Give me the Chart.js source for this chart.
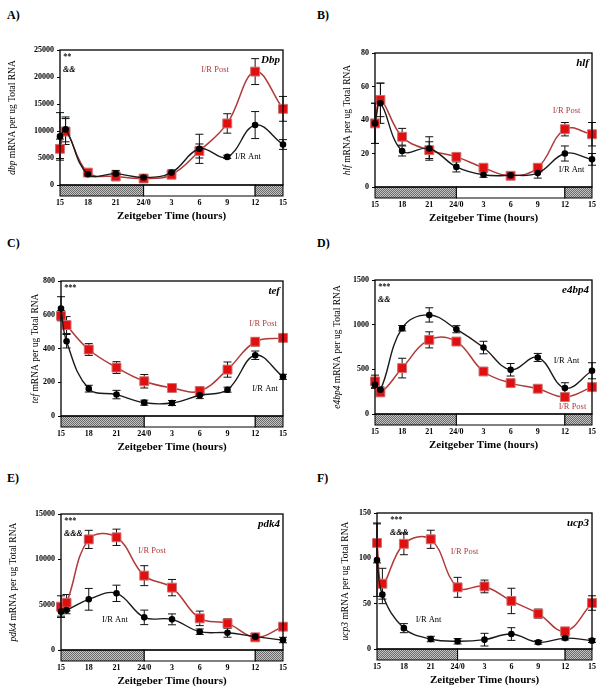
<!DOCTYPE html>
<html>
<head>
<meta charset="utf-8">
<script src="https://cdn.jsdelivr.net/npm/chart.js@4.4.0/dist/chart.umd.min.js"></script>
<style>
  body { margin: 0; background: #fff; width: 609px; height: 699px; position: relative; overflow: hidden; }
  canvas { position: absolute; }
  .tag { position: absolute; font: bold 12px "Liberation Serif", serif; color: #000; }
</style>
</head>
<body>
<div class="tag" style="left:7px;top:8px">A)</div>
<div class="tag" style="left:317px;top:8px">B)</div>
<div class="tag" style="left:7px;top:236px">C)</div>
<div class="tag" style="left:317px;top:236px">D)</div>
<div class="tag" style="left:7px;top:471px">E)</div>
<div class="tag" style="left:317px;top:471px">F)</div>

<canvas id="chartA" width="305" height="228" style="left:0;top:0"></canvas>
<canvas id="chartB" width="304" height="228" style="left:305px;top:0"></canvas>
<canvas id="chartC" width="305" height="230" style="left:0;top:228px"></canvas>
<canvas id="chartD" width="304" height="230" style="left:305px;top:228px"></canvas>
<canvas id="chartE" width="305" height="241" style="left:0;top:458px"></canvas>
<canvas id="chartF" width="304" height="241" style="left:305px;top:458px"></canvas>

<script>
// sampling times, hours after ZT15
const hours = [0, 0.6, 3, 6, 9, 12, 15, 18, 21, 24];
const tickLabels = ["15", "18", "21", "24/0", "3", "6", "9", "12", "15"];
const lightDark = [[0, 9, "dark"], [9, 21, "light"], [21, 24, "dark"]];

// A) Dbp
const dbpPost = [6700, 9900, 2300, 1600, 1200, 1900, 6300, 11400, 21000, 14100];
const dbpPostErr = [1800, 2400, 300, 800, 500, 500, 1300, 1800, 2400, 2300];
const dbpAnt = [9000, 10300, 2000, 2100, 1400, 2300, 6700, 5200, 11100, 7500];
const dbpAntErr = [4400, 2300, 300, 600, 400, 500, 2700, 300, 2500, 900];

// B) hlf
const hlfPost = [38, 52, 30, 22, 18, 11.5, 6.7, 11.5, 34.5, 31.5];
const hlfPostErr = [12, 10, 5, 5, 2, 2, 1.5, 2, 4, 7];
const hlfAnt = [38, 50, 21.5, 23, 12, 7.3, 7, 8.3, 20, 16.5];
const hlfAntErr = [12, 12, 3, 7, 3, 1.5, 1, 3, 4.5, 3.5];

// C) tef
const tefPost = [594, 539, 394, 287, 206, 166, 148, 275, 440, 463];
const tefPostErr = [30, 50, 35, 35, 40, 15, 25, 45, 25, 10];
const tefAnt = [637, 443, 162, 127, 79, 77, 123, 156, 360, 232];
const tefAntErr = [70, 40, 20, 25, 15, 15, 20, 15, 25, 15];

// D) e4bp4
const e4bp4Post = [365, 242, 514, 830, 811, 476, 346, 283, 190, 301];
const e4bp4PostErr = [70, 40, 110, 90, 30, 20, 30, 40, 20, 40];
const e4bp4Ant = [327, 272, 960, 1109, 949, 744, 495, 633, 290, 484];
const e4bp4AntErr = [40, 30, 30, 80, 40, 70, 70, 45, 60, 90];

// E) pdk4
const pdk4Post = [4780, 5220, 12200, 12430, 8200, 6880, 3490, 2940, 1400, 2570];
const pdk4PostErr = [1200, 900, 1000, 900, 1100, 900, 800, 500, 400, 300];
const pdk4Ant = [4230, 4400, 5590, 6250, 3600, 3380, 2020, 1910, 1470, 1100];
const pdk4AntErr = [500, 400, 1200, 900, 800, 600, 300, 500, 300, 300];

// F) ucp3
const ucp3Post = [117, 72, 116, 121, 68, 69, 53, 39, 19.5, 50.7];
const ucp3PostErr = [22, 17, 12, 10, 11, 7, 14, 5, 4, 8];
const ucp3Ant = [98, 60, 23, 11, 8.5, 10.3, 16.5, 7.4, 12, 9.2];
const ucp3AntErr = [40, 10, 5, 3, 3, 7, 7, 2, 2, 2];

const SERIF = '"Liberation Serif", serif';
const postColor = "#b03a3a";

const panels = [
  { id: "chartA", gene: "dbp", tag: "Dbp", yMax: 25000, yStep: 5000,
    post: dbpPost, postErr: dbpPostErr, ant: dbpAnt, antErr: dbpAntErr,
    area: { left: 60, right: 283, top: 50, bottom: 185 }, titleX: 12,
    marks: ["**", "&&"], postAt: [0.695, 0.148], antAt: [0.843, 0.793] },
  { id: "chartB", gene: "hlf", tag: "hlf", yMax: 80, yStep: 20,
    post: hlfPost, postErr: hlfPostErr, ant: hlfAnt, antErr: hlfAntErr,
    area: { left: 70, right: 293, top: 53, bottom: 187 }, titleX: 42,
    marks: [], postAt: [0.883, 0.433], antAt: [0.906, 0.873] },
  { id: "chartC", gene: "tef", tag: "tef", yMax: 800, yStep: 200,
    post: tefPost, postErr: tefPostErr, ant: tefAnt, antErr: tefAntErr,
    area: { left: 61, right: 283, top: 53, bottom: 188 }, titleX: 35,
    marks: ["***"], postAt: [0.91, 0.319], antAt: [0.919, 0.8] },
  { id: "chartD", gene: "e4bp4", tag: "e4bp4", yMax: 1500, yStep: 500,
    post: e4bp4Post, postErr: e4bp4PostErr, ant: e4bp4Ant, antErr: e4bp4AntErr,
    area: { left: 70, right: 293, top: 52, bottom: 186 }, titleX: 32,
    marks: ["***", "&&"], postAt: [0.91, 0.948], antAt: [0.883, 0.604] },
  { id: "chartE", gene: "pdk4", tag: "pdk4", yMax: 15000, yStep: 5000,
    post: pdk4Post, postErr: pdk4PostErr, ant: pdk4Ant, antErr: pdk4AntErr,
    area: { left: 61, right: 283, top: 56, bottom: 192 }, titleX: 13,
    marks: ["***", "&&&"], postAt: [0.41, 0.272], antAt: [0.243, 0.779] },
  { id: "chartF", gene: "ucp3", tag: "ucp3", yMax: 150, yStep: 50,
    post: ucp3Post, postErr: ucp3PostErr, ant: ucp3Ant, antErr: ucp3AntErr,
    area: { left: 72, right: 293, top: 55, bottom: 191 }, titleX: 40,
    marks: ["***", "&&&"], postAt: [0.407, 0.287], antAt: [0.24, 0.787], marksX: 13 },
];

function stipple(ctx) {
  const c = document.createElement("canvas");
  c.width = 4; c.height = 4;
  const g = c.getContext("2d");
  g.fillStyle = "#c4c4c4";
  g.fillRect(0, 0, 4, 4);
  g.fillStyle = "#6a6a6a";
  g.fillRect(0, 0, 1, 1); g.fillRect(2, 0, 1, 1);
  g.fillRect(1, 1, 1, 1); g.fillRect(3, 1, 1, 1);
  g.fillRect(0, 2, 1, 1); g.fillRect(2, 2, 1, 1);
  g.fillRect(1, 3, 1, 1); g.fillRect(3, 3, 1, 1);
  return ctx.createPattern(c, "repeat");
}

// error bars, drawn under the markers
const errorBars = {
  id: "errorBars",
  beforeDatasetsDraw(chart) {
    const ctx = chart.ctx;
    const xs = chart.scales.x, ys = chart.scales.y;
    ctx.save();
    ctx.strokeStyle = "#111";
    ctx.lineWidth = 1;
    chart.data.datasets.forEach((ds) => {
      ds.data.forEach((pt, i) => {
        const e = ds.errors[i];
        const px = xs.getPixelForValue(pt.x);
        const top = ys.getPixelForValue(pt.y + e);
        const bot = ys.getPixelForValue(pt.y - e);
        ctx.beginPath();
        ctx.moveTo(px, top); ctx.lineTo(px, bot);
        ctx.moveTo(px - 4, top); ctx.lineTo(px + 4, top);
        ctx.moveTo(px - 4, bot); ctx.lineTo(px + 4, bot);
        ctx.stroke();
      });
    });
    ctx.restore();
  },
};

// frame, light/dark bar and all the texts
const decor = {
  id: "decor",
  afterDraw(chart) {
    const p = chart.options.panel;
    const ctx = chart.ctx;
    const a = chart.chartArea;
    const xs = chart.scales.x;
    ctx.save();

    // light / dark bar under the axis
    lightDark.forEach(([from, to, kind]) => {
      const x0 = xs.getPixelForValue(from), x1 = xs.getPixelForValue(to);
      ctx.fillStyle = kind === "dark" ? stipple(ctx) : "#fff";
      ctx.fillRect(x0, a.bottom, x1 - x0, 11);
      ctx.strokeStyle = "#000";
      ctx.lineWidth = 1;
      ctx.strokeRect(x0, a.bottom, x1 - x0, 11);
    });

    ctx.strokeStyle = "#000";
    ctx.lineWidth = 1.3;
    ctx.strokeRect(a.left, a.top, a.right - a.left, a.bottom - a.top);

    // y title with italic gene name
    const rest = " mRNA per ug Total RNA";
    const italic = "italic 9.5px " + SERIF, plain = "9.5px " + SERIF;
    ctx.font = italic;
    const w1 = ctx.measureText(p.gene).width;
    ctx.font = plain;
    const w2 = ctx.measureText(rest).width;
    ctx.translate(p.titleX, (a.top + a.bottom) / 2);
    ctx.rotate(-Math.PI / 2);
    ctx.fillStyle = "#000";
    ctx.textBaseline = "middle";
    ctx.textAlign = "left";
    ctx.font = italic;
    ctx.fillText(p.gene, -(w1 + w2) / 2, 0);
    ctx.font = plain;
    ctx.fillText(rest, -(w1 + w2) / 2 + w1, 0);
    ctx.setTransform(chart.currentDevicePixelRatio, 0, 0, chart.currentDevicePixelRatio, 0, 0);

    // x title
    ctx.font = "bold 11px " + SERIF;
    ctx.textAlign = "center";
    ctx.fillText("Zeitgeber Time (hours)", (a.left + a.right) / 2, a.bottom + 31);

    // gene tag
    ctx.font = "bold italic 11px " + SERIF;
    ctx.textAlign = "right";
    ctx.fillText(p.tag, a.right - 3, a.top + 10);

    // significance marks
    ctx.font = "bold italic 8px " + SERIF;
    ctx.textAlign = "left";
    p.marks.forEach((m, i) => {
      ctx.fillText(m, a.left + (p.marksX || 3), a.top + 7 + i * 13);
    });

    // series labels
    const w = a.right - a.left, h = a.bottom - a.top;
    ctx.font = "8.5px " + SERIF;
    ctx.textAlign = "center";
    ctx.fillStyle = postColor;
    ctx.fillText("I/R Post", a.left + p.postAt[0] * w, a.top + p.postAt[1] * h);
    ctx.fillStyle = "#000";
    ctx.fillText("I/R Ant", a.left + p.antAt[0] * w, a.top + p.antAt[1] * h);
    ctx.restore();
  },
};

const tickFont = { family: SERIF, size: 8, weight: "bold" };

panels.forEach((p) => {
  const canvas = document.getElementById(p.id);
  const W = canvas.width, H = canvas.height;
  const pts = (vals) => vals.map((v, i) => ({ x: hours[i], y: v }));

  new Chart(canvas, {
    type: "line",
    data: {
      datasets: [
        {
          label: "I/R Ant",
          data: pts(p.ant),
          errors: p.antErr,
          borderColor: "#1a1a1a",
          borderWidth: 1.4,
          pointStyle: "circle",
          pointRadius: 2.6,
          pointBackgroundColor: "#000",
          pointBorderColor: "#000",
          tension: 0.4,
          clip: false,
        },
        {
          label: "I/R Post",
          data: pts(p.post),
          errors: p.postErr,
          borderColor: postColor,
          borderWidth: 1.5,
          pointStyle: "rect",
          pointRadius: 6.3,
          pointBackgroundColor: "#e01010",
          pointBorderColor: "#d07070",
          pointBorderWidth: 1,
          tension: 0.4,
          clip: false,
        },
      ],
    },
    options: {
      panel: p,
      responsive: false,
      animation: false,
      layout: { padding: { left: 0, right: W - p.area.right, top: p.area.top, bottom: 0 } },
      plugins: { legend: { display: false }, tooltip: { enabled: false } },
      scales: {
        x: {
          type: "linear",
          min: 0,
          max: 24,
          ticks: {
            stepSize: 3,
            autoSkip: false,
            maxRotation: 0,
            padding: 13,
            color: "#000",
            font: tickFont,
            callback: (v) => tickLabels[Math.round(v / 3)],
          },
          grid: { display: false, drawTicks: false },
          border: { display: false },
          afterFit(s) { s.height = H - p.area.bottom; },
        },
        y: {
          min: 0,
          max: p.yMax,
          ticks: {
            stepSize: p.yStep,
            color: "#000",
            font: tickFont,
            padding: 3,
            callback: (v) => String(v),
          },
          grid: { drawOnChartArea: false, drawTicks: true, tickLength: 3, color: "#000" },
          border: { display: false },
          afterFit(s) { s.width = p.area.left; },
        },
      },
    },
    plugins: [errorBars, decor],
  });
});
</script>
</body>
</html>
